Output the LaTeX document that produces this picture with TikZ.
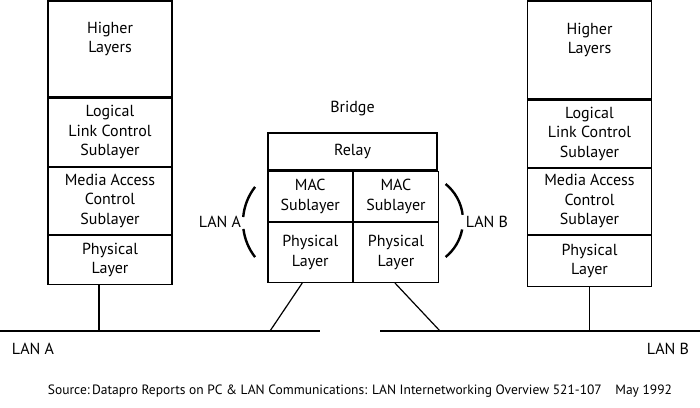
\documentclass[tikz,border=0pt]{standalone}
\usepackage{fontspec}
\setmainfont{PT Sans}
\usetikzlibrary{positioning,calc}

\begin{document}
\begin{tikzpicture}[x=1pt, y=-1pt,
    layer/.style={rectangle, draw, line width=1.2pt, minimum width=124pt, inner sep=0pt, align=center,
      font=\fontsize{16}{19.5}\selectfont},
    cell/.style={layer, minimum width=84.5pt},
    txt/.style={align=center, font=\fontsize{16}{19.5}\selectfont},
    line/.style={draw, line width=1.2pt},
    brk/.style={draw, line width=2.4pt}]

    \useasboundingbox (0,0) rectangle (700,407);

    % Nodes
    \node [layer, minimum height=96pt, label={[txt, yshift=10pt]center:Higher\\Layers}] (highA) at (110,49) {};
    \node [layer, minimum height=68pt, below=0pt of highA] (llcA) {Logical\\Link Control\\Sublayer};
    \node [layer, minimum height=67pt, below=0pt of llcA] (macLA) {Media Access\\Control\\Sublayer};
    \node [layer, minimum height=49pt, below=0pt of macLA] (phyLA) {Physical\\Layer};

    \node [layer, minimum height=98pt, label={[txt, yshift=10pt]center:Higher\\Layers}] (highB) at (589.5,50) {};
    \node [layer, minimum height=67pt, below=0pt of highB] (llcB) {Logical\\Link Control\\Sublayer};
    \node [layer, minimum height=66pt, below=0pt of llcB] (macLB) {Media Access\\Control\\Sublayer};
    \node [layer, minimum height=51pt, below=0pt of macLB] (phyLB) {Physical\\Layer};

    \node [layer, minimum width=169pt, minimum height=37pt] (relay) at (352.5,151.5) {Relay};
    \node [cell, minimum height=50pt, anchor=north west] (macA) at (relay.south west) {MAC\\Sublayer};
    \node [cell, minimum height=50pt, anchor=north west] (macB) at (macA.north east) {MAC\\Sublayer};
    \node [cell, minimum height=60pt, anchor=north] (phyA) at (macA.south) {Physical\\Layer};
    \node [cell, minimum height=60pt, anchor=north] (phyB) at (macB.south) {Physical\\Layer};

    \node [txt, above=13pt of relay] (bridge) {Bridge};
    \node [txt] (sideA) at (220,222) {LAN A};
    \node [txt] (sideB) at (487,222) {LAN B};
    \node [txt] (lanA) at (33,349) {LAN A};
    \node [txt] (lanB) at (668,349) {LAN B};
    \node [txt, font=\fontsize{13.5}{16}\selectfont] (source) at (360,391)
      {Source:\,Datapro Reports on PC \& LAN Communications: LAN Internetworking Overview 521-107\quad May 1992};

    % Coordinates on the LANs
    \coordinate (lanAw) at (0,331);
    \coordinate (lanAe) at (320,331);
    \coordinate (lanBw) at (380,331);
    \coordinate (lanBe) at (700,331);
    \coordinate (tapA) at (99,331);
    \coordinate (tapB) at (589.5,331);
    \coordinate (legA) at (270,331);
    \coordinate (legB) at (440,331);
    \coordinate (arcA) at (300,222);
    \coordinate (arcB) at (416,220.5);

    % Paths
    \path [line] (lanAw) -- (lanAe);
    \path [line] (lanBw) -- (lanBe);
    \path [line] (phyLA.south -| tapA) -- (tapA);
    \path [line] (phyLB.south -| tapB) -- (tapB);
    \path [line] ([xshift=-8pt]phyA.south) -- (legA);
    \path [line] ([xshift=-1pt]phyB.south) -- (legB);

    % Brackets
    \path [brk] (arcA) ++(142:57pt) arc[start angle=142, end angle=175, radius=57pt];
    \path [brk] (arcA) ++(187:57pt) arc[start angle=187, end angle=218, radius=57pt];
    \path [brk] (arcB) ++(51:47pt) arc[start angle=51, end angle=7, radius=47pt];
    \path [brk] (arcB) ++(-11:47pt) arc[start angle=-11, end angle=-51, radius=47pt];

\end{tikzpicture}
\end{document}
